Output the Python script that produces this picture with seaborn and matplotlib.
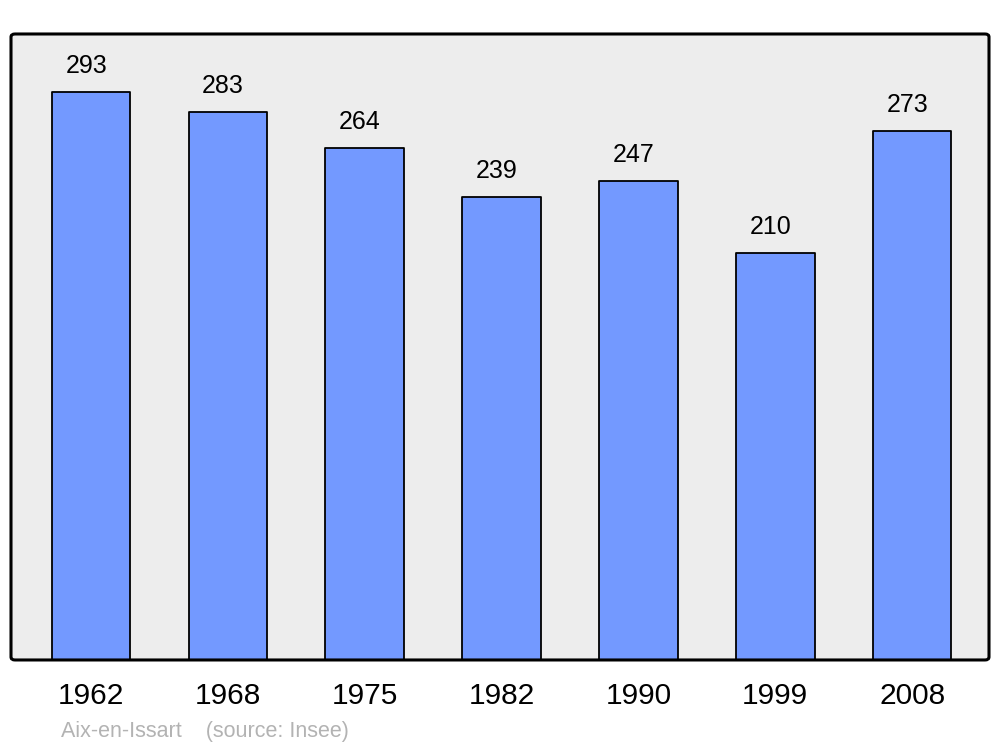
import matplotlib
matplotlib.use("Agg")
import matplotlib.pyplot as plt
import seaborn as sns
import pandas as pd
from matplotlib.patches import FancyBboxPatch

years = ["1962", "1968", "1975", "1982", "1990", "1999", "2008"]
population = [293, 283, 264, 239, 247, 210, 273]
commune = "Aix-en-Issart"
source = "(source: Insee)"

df = pd.DataFrame({"year": years, "pop": population})

sns.set_style("white")
plt.rcParams["font.family"] = ["Liberation Sans", "DejaVu Sans"]

fig = plt.figure(figsize=(10, 7.47), dpi=100)
ax = fig.add_axes([0.011, 0.1165, 0.978, 0.838])
ax.set_facecolor("none")

# fond arrondi du cadre
frame = FancyBboxPatch((0.011, 0.1165), 0.978, 0.838, boxstyle="round,pad=0,rounding_size=0.004",
                       transform=fig.transFigure, facecolor="#ededed", edgecolor="none",
                       zorder=-5, clip_on=False)
ax.add_artist(frame)
border = FancyBboxPatch((0.011, 0.1165), 0.978, 0.838, boxstyle="round,pad=0,rounding_size=0.004",
                        transform=fig.transFigure, facecolor="none", edgecolor="black",
                        linewidth=2.2, zorder=5, clip_on=False)
ax.add_artist(border)

sns.barplot(data=df, x="year", y="pop", color="#7399ff", width=0.575,
            edgecolor="black", linewidth=1.3, saturation=1, ax=ax)
for b in ax.patches:
    if b is not frame and b is not border:
        b.set_joinstyle("round")

for i, v in enumerate(population):
    ax.annotate(str(v), (i, v), xytext=(-3.5, 10), textcoords="offset points",
                ha="center", va="bottom", fontsize=18, color="black")

ax.set_xlim(-0.585, 6.562)
ax.set_ylim(0, 323)
for s in ax.spines.values():
    s.set_visible(False)
ax.set_yticks([])
ax.set_xlabel("")
ax.set_ylabel("")
ax.tick_params(axis="x", length=0, pad=16, labelsize=21.5, labelcolor="black")

fig.text(0.061, 0.021, commune + "    " + source, color="#b3b3b3", fontsize=15.5, va="center")

fig.savefig("out.png", dpi=100)
